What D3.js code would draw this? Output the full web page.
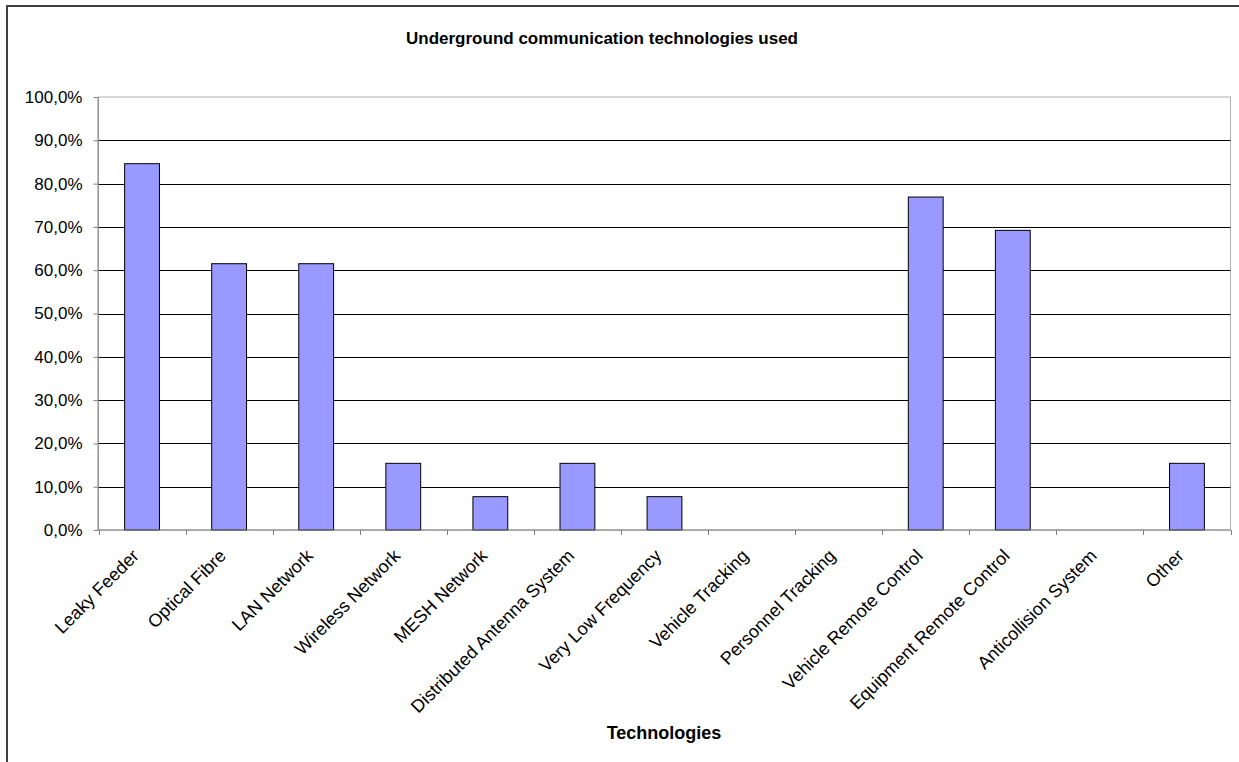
<!DOCTYPE html>
<html>
<head>
<meta charset="utf-8">
<script src="https://cdn.jsdelivr.net/npm/d3@7"></script>
<style>
  html, body { margin: 0; padding: 0; background: #fff; }
  svg { display: block; font-family: "Liberation Sans", Arial, sans-serif; }
</style>
</head>
<body>
<svg id="chart" width="1239" height="762"></svg>
<script>
// Share of sites using each underground communication technology (%)
const categories = [
  "Leaky Feeder", "Optical Fibre", "LAN Network", "Wireless Network",
  "MESH Network", "Distributed Antenna System", "Very Low Frequency",
  "Vehicle Tracking", "Personnel Tracking", "Vehicle Remote Control",
  "Equipment Remote Control", "Anticollision System", "Other"
];
const values = [84.6, 61.5, 61.5, 15.4, 7.7, 15.4, 7.7, 0, 0, 76.9, 69.2, 0, 15.4];
const yTicks = [0, 10, 20, 30, 40, 50, 60, 70, 80, 90, 100];

const title = "Underground communication technologies used";
const xTitle = "Technologies";

const svg = d3.select("#chart");

// Outer chart frame (runs past the right and bottom edges)
svg.append("rect")
  .attr("x", 7).attr("y", 6)
  .attr("width", 1260).attr("height", 790)
  .attr("fill", "#fff")
  .attr("stroke", "#404040")
  .attr("stroke-width", 2);

const plot = { left: 98.5, top: 97, right: 1230.5, bottom: 530 };

const x = d3.scaleBand()
  .domain(categories)
  .range([plot.left, plot.right])
  .paddingInner(0.6)
  .paddingOuter(0.3);

const y = d3.scaleLinear()
  .domain([0, 100])
  .range([plot.bottom, plot.top]);

// Plot area border (gray)
svg.append("rect")
  .attr("x", plot.left).attr("y", plot.top)
  .attr("width", plot.right - plot.left)
  .attr("height", plot.bottom - plot.top)
  .attr("fill", "none")
  .attr("stroke", "#b0b0b0")
  .attr("stroke-width", 1);

// Horizontal gridlines
svg.append("g")
  .selectAll("line")
  .data(yTicks.filter(t => t > 0 && t < 100))
  .join("line")
  .attr("x1", plot.left).attr("x2", plot.right)
  .attr("y1", d => Math.round(y(d)) + 0.5)
  .attr("y2", d => Math.round(y(d)) + 0.5)
  .attr("stroke", "#000")
  .attr("stroke-width", 1);

// Bars
svg.append("g")
  .selectAll("rect")
  .data(values.map((v, i) => ({ c: categories[i], v })).filter(d => d.v > 0))
  .join("rect")
  .attr("x", d => x(d.c))
  .attr("y", d => y(d.v))
  .attr("width", x.bandwidth())
  .attr("height", d => y(0) - y(d.v))
  .attr("fill", "#9999ff")
  .attr("stroke", "#000")
  .attr("stroke-width", 1);

// Y axis
const yAxis = d3.axisLeft(y)
  .tickValues(yTicks)
  .tickSize(5)
  .tickPadding(11)
  .tickFormat(d => d.toFixed(1).replace(".", ",") + "%");

const gy = svg.append("g")
  .attr("transform", `translate(${plot.left},0)`)
  .call(yAxis);
gy.select(".domain").attr("stroke", "#808080").attr("d", `M-0.5,${plot.top}V${plot.bottom}`);
gy.selectAll(".tick line").attr("stroke", "#808080");
gy.selectAll(".tick text")
  .attr("font-size", 17)
  .attr("fill", "#000")
  .attr("font-family", "Liberation Sans, Arial, sans-serif");

// X axis: ticks on category boundaries, rotated labels at category centres
const gx = svg.append("g")
  .attr("transform", `translate(0,${plot.bottom})`);
gx.append("line")
  .attr("x1", plot.left).attr("x2", plot.right)
  .attr("y1", 0).attr("y2", 0)
  .attr("stroke", "#808080");
const boundaries = d3.range(categories.length + 1).map(i => plot.left + i * (plot.right - plot.left) / categories.length);
gx.selectAll("line.tick")
  .data(boundaries)
  .join("line")
  .attr("class", "tick")
  .attr("x1", d => Math.round(d) + 0.5).attr("x2", d => Math.round(d) + 0.5)
  .attr("y1", 0).attr("y2", 5)
  .attr("stroke", "#808080");
gx.selectAll("text")
  .data(categories)
  .join("text")
  .attr("transform", d => `translate(${x(d) + x.bandwidth() / 2 - 2},${27}) rotate(-45)`)
  .attr("text-anchor", "end")
  .attr("font-size", 18)
  .attr("fill", "#000")
  .text(d => d);

// Titles
svg.append("text")
  .attr("x", 602).attr("y", 44)
  .attr("text-anchor", "middle")
  .attr("font-size", 17)
  .attr("font-weight", "bold")
  .text(title);

svg.append("text")
  .attr("x", 664).attr("y", 739)
  .attr("text-anchor", "middle")
  .attr("font-size", 18)
  .attr("font-weight", "bold")
  .text(xTitle);
</script>
</body>
</html>
